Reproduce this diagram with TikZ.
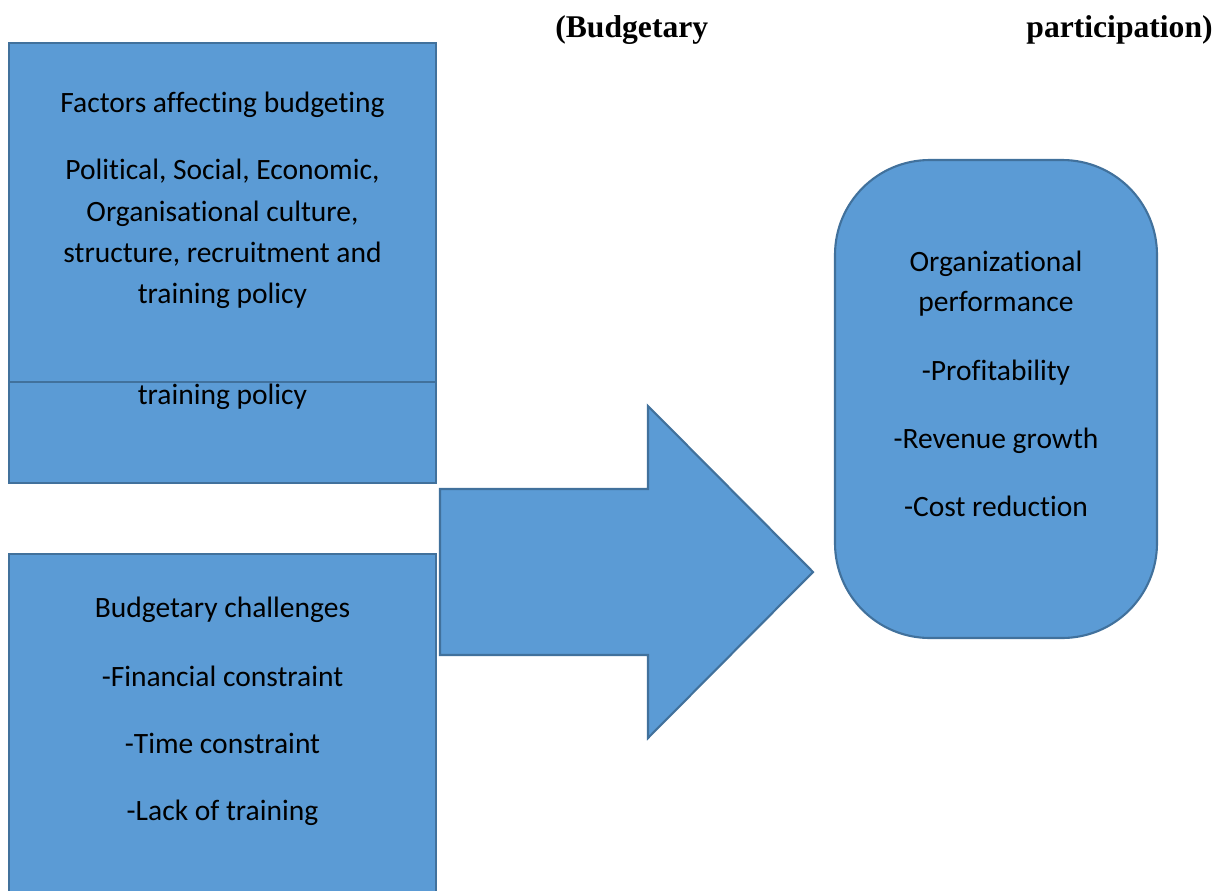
\documentclass[tikz,border=0pt]{standalone}
\usepackage{fontspec}
\setmainfont{Carlito}[Ligatures=NoCommon]
\newfontfamily\headfont{Liberation Serif}
\usepackage{tikz}

\definecolor{boxfill}{HTML}{5B9BD5}
\definecolor{boxline}{HTML}{41719C}

\begin{document}
\begin{tikzpicture}[x=0.02cm,y=-0.02cm]
    \tikzset{every node/.style={inner sep=0pt, anchor=base, font=\fontsize{16.8pt}{20pt}\selectfont}}
    \tikzset{blockfill/.style={fill=boxfill, draw=boxline, line width=1.2pt}}
    \useasboundingbox (0,0) rectangle (1225,890);
    % title
    \node [anchor=base west, font=\headfont\bfseries\fontsize{18pt}{20pt}\selectfont] (ttl1) at (555,37) {(Budgetary};
    \node [anchor=base east, font=\headfont\bfseries\fontsize{18pt}{20pt}\selectfont] (ttl2) at (1213,37) {participation)};
    % factors box and the box laid over it
    \draw [blockfill] (9,43) rectangle (436,483);
    \fill [boxfill] (9,143) rectangle (436,382);
    \draw [boxline, line width=1.2pt] (9,143) -- (9,382) -- (436,382) -- (436,143);
    \node (fac) at (222.5,112) {Factors affecting budgeting};
    \node (fac1) at (222.5,179) {Political, Social, Economic,};
    \node (fac2) at (222.5,221) {Organisational culture,};
    \node (fac3) at (222.5,262) {structure, recruitment and};
    \node (fac4) at (222.5,303) {training policy};
    \node (fac5) at (222.5,404) {training policy};
    % challenges box
    \draw [blockfill] (9,554) rectangle (436,895);
    \node (chl) at (222.5,617) {Budgetary challenges};
    \node (chl1) at (222.5,686) {-Financial constraint};
    \node (chl2) at (222.5,753) {-Time constraint};
    \node (chl3) at (222.5,820) {-Lack of training};
    % block arrow
    \draw [blockfill, line join=miter] (440,489) -- (648,489) -- (648,406) -- (813,572)
        -- (648,738) -- (648,655) -- (440,655) -- cycle;
    % performance box
    \draw [blockfill, rounded corners=54] (835,160) rectangle (1157,638);
    \node (prf) at (996,271) {Organizational};
    \node (prf1) at (996,311) {performance};
    \node (prf2) at (996,380) {-Profitability};
    \node (prf3) at (996,448) {-Revenue growth};
    \node (prf4) at (996,516) {-Cost reduction};
\end{tikzpicture}
\end{document}
